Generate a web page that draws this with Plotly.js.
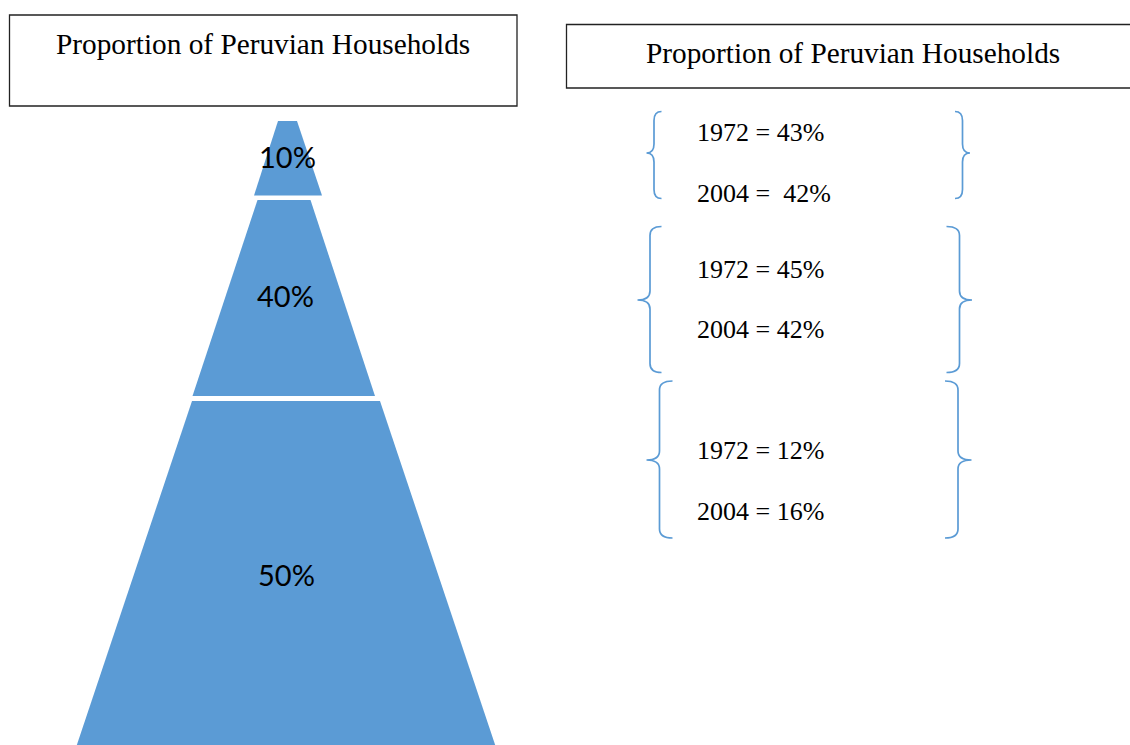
<!DOCTYPE html>
<html>
<head>
<meta charset="utf-8">
<script src="https://cdn.plot.ly/plotly-3.0.1.min.js"></script>
<style>html,body{margin:0;padding:0;background:#fff;}#chart{width:1130px;height:745px;}</style>
</head>
<body>
<div id="chart"></div>
<script>
// ---- data ----
const chartTitle = 'Proportion of Peruvian Households';
const tierLabels = ['10%', '40%', '50%'];
const years = ['1972', '2004'];
const share1972 = [43, 45, 12];
const share2004 = [42, 42, 16];
const eqSpacing2004 = [2, 1, 1]; // spaces after "=" in the 2004 line

// ---- geometry (page pixel coordinates on the full-page axes) ----
const tierPolys = [
  [[278, 121], [297, 121], [322, 195.5], [254, 195.5]],
  [[257.5, 200], [310.5, 200], [375, 396], [192.5, 396]],
  [[192, 401], [380, 401], [495.5, 746], [76.5, 746]]
];
const tierLabelPos = [[287, 156.5], [285, 295.5], [286, 574.5]];
const braceGroups = [
  {yT: 111.5, yB: 198.5, yM: 153, lEnd: 661.5, lV: 654, lTip: 646.5, rEnd: 955, rV: 962.5, rTip: 970, yLines: [132, 193]},
  {yT: 226.5, yB: 372.5, yM: 300, lEnd: 661.5, lV: 650, lTip: 637.5, rEnd: 946.5, rV: 959.5, rTip: 972, yLines: [269, 329.5]},
  {yT: 381, yB: 538, yM: 460, lEnd: 672.5, lV: 659.5, lTip: 646.5, rEnd: 945, rV: 958, rTip: 971.5, yLines: [450.5, 511]}
];
const textLeftX = 694.5;
const BLUE = '#5B9BD5';

function bracePath(xEnd, xV, xTip, yT, yB, yM, r) {
  return 'M' + xEnd + ',' + yT +
    ' Q' + xV + ',' + yT + ' ' + xV + ',' + (yT + r) +
    ' L' + xV + ',' + (yM - r) +
    ' Q' + xV + ',' + yM + ' ' + xTip + ',' + yM +
    ' Q' + xV + ',' + yM + ' ' + xV + ',' + (yM + r) +
    ' L' + xV + ',' + (yB - r) +
    ' Q' + xV + ',' + yB + ' ' + xEnd + ',' + yB;
}

const traces = tierPolys.map(function (poly, i) {
  const xs = poly.map(p => p[0]); xs.push(poly[0][0]);
  const ys = poly.map(p => p[1]); ys.push(poly[0][1]);
  return {
    type: 'scatter', mode: 'lines', x: xs, y: ys, fill: 'toself',
    fillcolor: BLUE, line: {width: 0, color: BLUE}, hoverinfo: 'skip',
    name: tierLabels[i], showlegend: false
  };
});

const annotations = [];
tierLabels.forEach(function (lab, i) {
  annotations.push({
    x: tierLabelPos[i][0], y: tierLabelPos[i][1], xref: 'x', yref: 'y',
    text: lab, showarrow: false, xanchor: 'center', yanchor: 'middle',
    font: {family: 'Lato, Carlito, sans-serif', size: 29, color: '#000'}
  });
});
annotations.push({
  x: 263, y: 44, xref: 'x', yref: 'y', text: chartTitle, showarrow: false,
  xanchor: 'center', yanchor: 'middle',
  font: {family: '"Liberation Serif", "Times New Roman", serif', size: 29.3, color: '#000'}
});
annotations.push({
  x: 853, y: 52.5, xref: 'x', yref: 'y', text: chartTitle, showarrow: false,
  xanchor: 'center', yanchor: 'middle',
  font: {family: '"Liberation Serif", "Times New Roman", serif', size: 29.3, color: '#000'}
});

const shapes = [
  {type: 'rect', xref: 'x', yref: 'y', x0: 9.5, x1: 517, y0: 15, y1: 106, line: {color: '#222', width: 1.3}},
  {type: 'rect', xref: 'x', yref: 'y', x0: 566.5, x1: 1140, y0: 24.5, y1: 88, line: {color: '#222', width: 1.3}}
];

braceGroups.forEach(function (g, i) {
  shapes.push({type: 'path', xref: 'x', yref: 'y',
    path: bracePath(g.lEnd, g.lV, g.lTip, g.yT, g.yB, g.yM, 9),
    line: {color: BLUE, width: 1.7}});
  shapes.push({type: 'path', xref: 'x', yref: 'y',
    path: bracePath(g.rEnd, g.rV, g.rTip, g.yT, g.yB, g.yM, 9),
    line: {color: BLUE, width: 1.7}});
  const vals = [share1972[i], share2004[i]];
  const sp = [1, eqSpacing2004[i]];
  years.forEach(function (yr, k) {
    annotations.push({
      x: textLeftX, y: g.yLines[k], xref: 'x', yref: 'y',
      text: yr + ' =' + '\u00a0'.repeat(sp[k]) + vals[k] + '%',
      showarrow: false, xanchor: 'left', yanchor: 'middle',
      font: {family: '"Liberation Serif", "Times New Roman", serif', size: 26, color: '#000'}
    });
  });
});

const layout = {
  width: 1130, height: 745,
  margin: {l: 0, r: 0, t: 0, b: 0, pad: 0},
  paper_bgcolor: '#ffffff', plot_bgcolor: '#ffffff',
  xaxis: {range: [0, 1130], visible: false, fixedrange: true},
  yaxis: {range: [745, 0], visible: false, fixedrange: true},
  showlegend: false,
  shapes: shapes,
  annotations: annotations
};

Plotly.newPlot('chart', traces, layout, {displayModeBar: false, staticPlot: true});
</script>
</body>
</html>
